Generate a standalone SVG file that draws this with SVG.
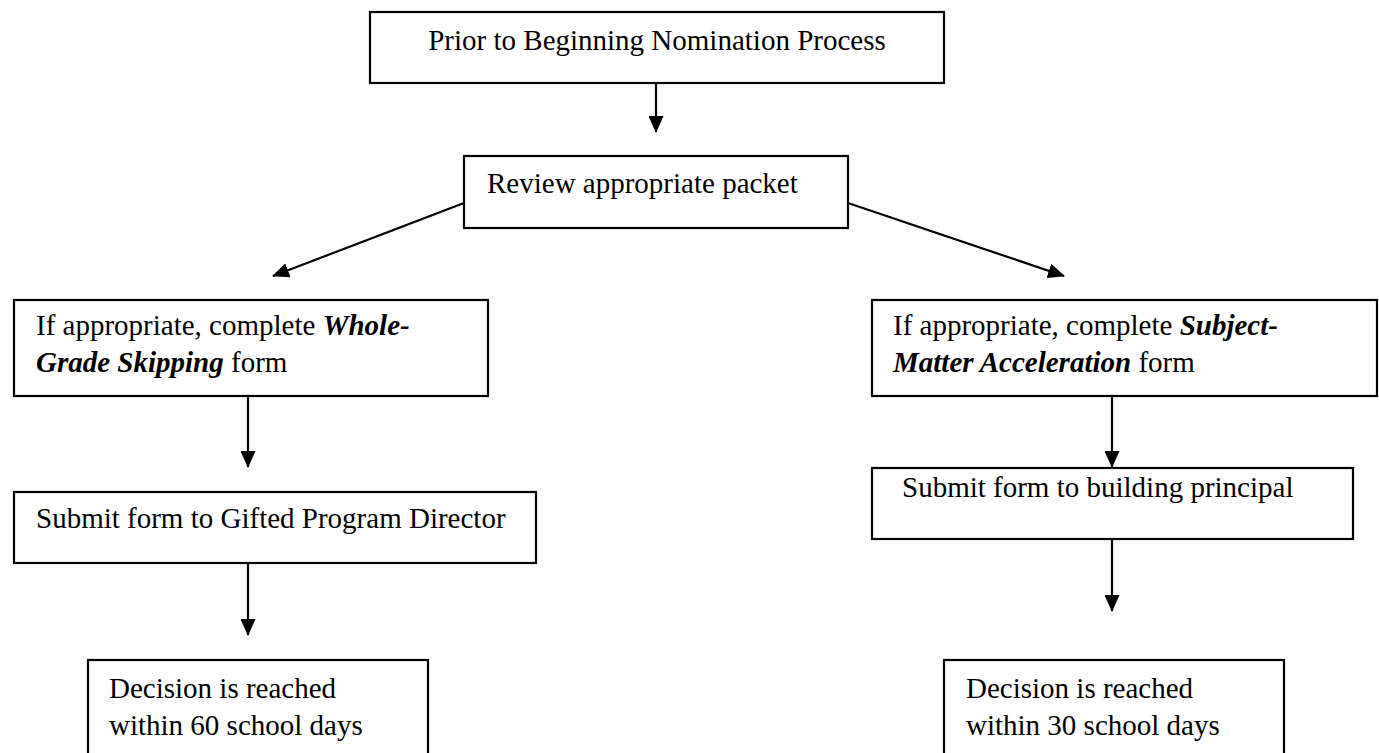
<svg xmlns="http://www.w3.org/2000/svg" width="1379" height="753" viewBox="0 0 1379 753">
<defs>
<marker id="ah" markerWidth="17" markerHeight="15" refX="16" refY="7.5" orient="auto" markerUnits="userSpaceOnUse">
<path d="M0,0 L17,7.5 L0,15 Z" fill="#000"/>
</marker>
<style>
.box{fill:#fff;stroke:#000;stroke-width:2.2}
.t{font-family:"Liberation Serif","Times New Roman",serif;font-size:29px;fill:#000}
.bi{font-weight:bold;font-style:italic}
.c{stroke:#000;stroke-width:2.2;fill:none;marker-end:url(#ah)}
</style>
</defs>
<rect width="1379" height="753" fill="#fff"/>
<g id="connectors">
<line class="c" x1="656" y1="83" x2="656" y2="132"/>
<line class="c" x1="464" y1="203" x2="273" y2="276"/>
<line class="c" x1="848" y1="203" x2="1064" y2="276"/>
<line class="c" x1="248" y1="396" x2="248" y2="467"/>
<line class="c" x1="248" y1="563" x2="248" y2="635"/>
<line class="c" x1="1112" y1="396" x2="1112" y2="467"/>
<line class="c" x1="1112" y1="539" x2="1112" y2="611"/>
</g>
<g id="n-prior">
<rect class="box" x="370" y="12" width="574" height="71"/>
<text class="t" x="657" y="50" text-anchor="middle">Prior to Beginning Nomination Process</text>
</g>
<g id="n-review">
<rect class="box" x="464" y="156" width="384" height="72"/>
<text class="t" x="487" y="193">Review appropriate packet</text>
</g>
<g id="n-whole">
<rect class="box" x="14" y="300" width="474" height="96"/>
<text class="t" x="36" y="335">If appropriate, complete <tspan class="bi">Whole-</tspan></text>
<text class="t" x="36" y="372"><tspan class="bi">Grade Skipping</tspan> form</text>
</g>
<g id="n-subject">
<rect class="box" x="872" y="300" width="505" height="96"/>
<text class="t" x="893" y="335">If appropriate, complete <tspan class="bi">Subject-</tspan></text>
<text class="t" x="893" y="372"><tspan class="bi">Matter Acceleration</tspan> form</text>
</g>
<g id="n-gifted">
<rect class="box" x="14" y="492" width="522" height="71"/>
<text class="t" x="36" y="528">Submit form to Gifted Program Director</text>
</g>
<g id="n-principal">
<rect class="box" x="872" y="468" width="481" height="71"/>
<text class="t" x="902" y="497">Submit form to building principal</text>
</g>
<g id="n-dec60">
<rect class="box" x="88" y="660" width="340" height="100"/>
<text class="t" x="109" y="698">Decision is reached</text>
<text class="t" x="109" y="735">within 60 school days</text>
</g>
<g id="n-dec30">
<rect class="box" x="944" y="660" width="340" height="100"/>
<text class="t" x="966" y="698">Decision is reached</text>
<text class="t" x="966" y="735">within 30 school days</text>
</g>
</svg>
